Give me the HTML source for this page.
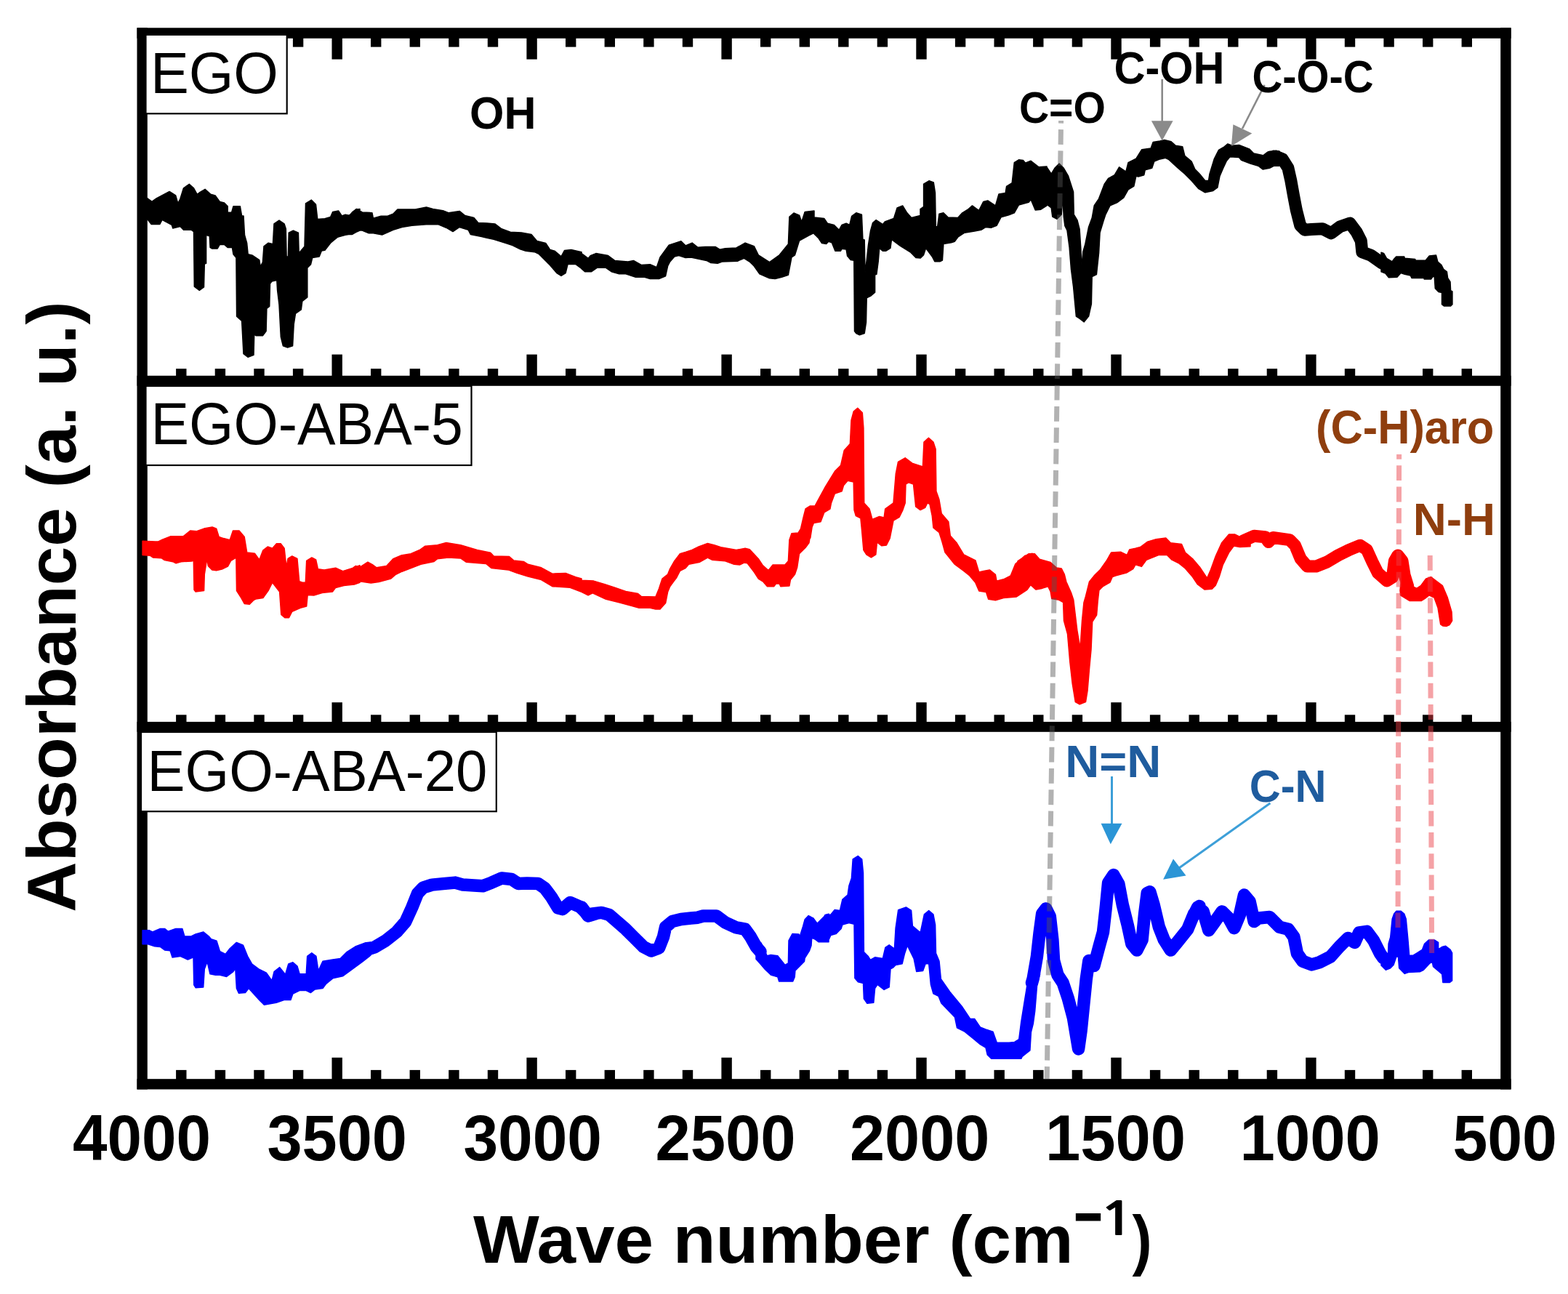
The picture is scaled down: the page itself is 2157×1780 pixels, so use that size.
<!DOCTYPE html><html><head><meta charset="utf-8"><title>FTIR spectra</title><style>html,body{margin:0;padding:0;background:#fff;}svg{display:block;}text{font-family:'Liberation Sans', Arial, Helvetica, sans-serif;}</style></head><body><svg width="2157" height="1780" viewBox="0 0 2157 1780"><rect width="2157" height="1780" fill="#fff"/><g fill="#000"><rect x="2010.6" y="51.8" width="14.4" height="12.8"/><rect x="1957" y="51.8" width="14.4" height="12.8"/><rect x="1903.4" y="51.8" width="14.4" height="12.8"/><rect x="1849.8" y="51.8" width="14.4" height="12.8"/><rect x="1796.2" y="51.8" width="14.4" height="29.8"/><rect x="1742.7" y="51.8" width="14.4" height="12.8"/><rect x="1689.1" y="51.8" width="14.4" height="12.8"/><rect x="1635.5" y="51.8" width="14.4" height="12.8"/><rect x="1581.9" y="51.8" width="14.4" height="12.8"/><rect x="1528.3" y="51.8" width="14.4" height="29.8"/><rect x="1474.7" y="51.8" width="14.4" height="12.8"/><rect x="1421.1" y="51.8" width="14.4" height="12.8"/><rect x="1367.5" y="51.8" width="14.4" height="12.8"/><rect x="1313.9" y="51.8" width="14.4" height="12.8"/><rect x="1260.3" y="51.8" width="14.4" height="29.8"/><rect x="1206.7" y="51.8" width="14.4" height="12.8"/><rect x="1153.1" y="51.8" width="14.4" height="12.8"/><rect x="1099.6" y="51.8" width="14.4" height="12.8"/><rect x="1046" y="51.8" width="14.4" height="12.8"/><rect x="992.4" y="51.8" width="14.4" height="29.8"/><rect x="938.8" y="51.8" width="14.4" height="12.8"/><rect x="885.2" y="51.8" width="14.4" height="12.8"/><rect x="831.6" y="51.8" width="14.4" height="12.8"/><rect x="778" y="51.8" width="14.4" height="12.8"/><rect x="724.4" y="51.8" width="14.4" height="29.8"/><rect x="670.8" y="51.8" width="14.4" height="12.8"/><rect x="617.2" y="51.8" width="14.4" height="12.8"/><rect x="563.6" y="51.8" width="14.4" height="12.8"/><rect x="510" y="51.8" width="14.4" height="12.8"/><rect x="456.5" y="51.8" width="14.4" height="29.8"/><rect x="402.9" y="51.8" width="14.4" height="12.8"/><rect x="349.3" y="51.8" width="14.4" height="12.8"/><rect x="295.7" y="51.8" width="14.4" height="12.8"/><rect x="242.1" y="51.8" width="14.4" height="12.8"/><rect x="2010.6" y="507.2" width="14.4" height="10.6"/><rect x="1957" y="507.2" width="14.4" height="10.6"/><rect x="1903.4" y="507.2" width="14.4" height="10.6"/><rect x="1849.8" y="507.2" width="14.4" height="10.6"/><rect x="1796.2" y="487.6" width="14.4" height="30.2"/><rect x="1742.7" y="507.2" width="14.4" height="10.6"/><rect x="1689.1" y="507.2" width="14.4" height="10.6"/><rect x="1635.5" y="507.2" width="14.4" height="10.6"/><rect x="1581.9" y="507.2" width="14.4" height="10.6"/><rect x="1528.3" y="487.6" width="14.4" height="30.2"/><rect x="1474.7" y="507.2" width="14.4" height="10.6"/><rect x="1421.1" y="507.2" width="14.4" height="10.6"/><rect x="1367.5" y="507.2" width="14.4" height="10.6"/><rect x="1313.9" y="507.2" width="14.4" height="10.6"/><rect x="1260.3" y="487.6" width="14.4" height="30.2"/><rect x="1206.7" y="507.2" width="14.4" height="10.6"/><rect x="1153.1" y="507.2" width="14.4" height="10.6"/><rect x="1099.6" y="507.2" width="14.4" height="10.6"/><rect x="1046" y="507.2" width="14.4" height="10.6"/><rect x="992.4" y="487.6" width="14.4" height="30.2"/><rect x="938.8" y="507.2" width="14.4" height="10.6"/><rect x="885.2" y="507.2" width="14.4" height="10.6"/><rect x="831.6" y="507.2" width="14.4" height="10.6"/><rect x="778" y="507.2" width="14.4" height="10.6"/><rect x="724.4" y="487.6" width="14.4" height="30.2"/><rect x="670.8" y="507.2" width="14.4" height="10.6"/><rect x="617.2" y="507.2" width="14.4" height="10.6"/><rect x="563.6" y="507.2" width="14.4" height="10.6"/><rect x="510" y="507.2" width="14.4" height="10.6"/><rect x="456.5" y="487.6" width="14.4" height="30.2"/><rect x="402.9" y="507.2" width="14.4" height="10.6"/><rect x="349.3" y="507.2" width="14.4" height="10.6"/><rect x="295.7" y="507.2" width="14.4" height="10.6"/><rect x="242.1" y="507.2" width="14.4" height="10.6"/><rect x="2010.6" y="983.3" width="14.4" height="10.6"/><rect x="1957" y="983.3" width="14.4" height="10.6"/><rect x="1903.4" y="983.3" width="14.4" height="10.6"/><rect x="1849.8" y="983.3" width="14.4" height="10.6"/><rect x="1796.2" y="966.2" width="14.4" height="27.7"/><rect x="1742.7" y="983.3" width="14.4" height="10.6"/><rect x="1689.1" y="983.3" width="14.4" height="10.6"/><rect x="1635.5" y="983.3" width="14.4" height="10.6"/><rect x="1581.9" y="983.3" width="14.4" height="10.6"/><rect x="1528.3" y="966.2" width="14.4" height="27.7"/><rect x="1474.7" y="983.3" width="14.4" height="10.6"/><rect x="1421.1" y="983.3" width="14.4" height="10.6"/><rect x="1367.5" y="983.3" width="14.4" height="10.6"/><rect x="1313.9" y="983.3" width="14.4" height="10.6"/><rect x="1260.3" y="966.2" width="14.4" height="27.7"/><rect x="1206.7" y="983.3" width="14.4" height="10.6"/><rect x="1153.1" y="983.3" width="14.4" height="10.6"/><rect x="1099.6" y="983.3" width="14.4" height="10.6"/><rect x="1046" y="983.3" width="14.4" height="10.6"/><rect x="992.4" y="966.2" width="14.4" height="27.7"/><rect x="938.8" y="983.3" width="14.4" height="10.6"/><rect x="885.2" y="983.3" width="14.4" height="10.6"/><rect x="831.6" y="983.3" width="14.4" height="10.6"/><rect x="778" y="983.3" width="14.4" height="10.6"/><rect x="724.4" y="966.2" width="14.4" height="27.7"/><rect x="670.8" y="983.3" width="14.4" height="10.6"/><rect x="617.2" y="983.3" width="14.4" height="10.6"/><rect x="563.6" y="983.3" width="14.4" height="10.6"/><rect x="510" y="983.3" width="14.4" height="10.6"/><rect x="456.5" y="966.2" width="14.4" height="27.7"/><rect x="402.9" y="983.3" width="14.4" height="10.6"/><rect x="349.3" y="983.3" width="14.4" height="10.6"/><rect x="295.7" y="983.3" width="14.4" height="10.6"/><rect x="242.1" y="983.3" width="14.4" height="10.6"/><rect x="2010.6" y="1471.9" width="14.4" height="13.3"/><rect x="1957" y="1471.9" width="14.4" height="13.3"/><rect x="1903.4" y="1471.9" width="14.4" height="13.3"/><rect x="1849.8" y="1471.9" width="14.4" height="13.3"/><rect x="1796.2" y="1454.8" width="14.4" height="30.4"/><rect x="1742.7" y="1471.9" width="14.4" height="13.3"/><rect x="1689.1" y="1471.9" width="14.4" height="13.3"/><rect x="1635.5" y="1471.9" width="14.4" height="13.3"/><rect x="1581.9" y="1471.9" width="14.4" height="13.3"/><rect x="1528.3" y="1454.8" width="14.4" height="30.4"/><rect x="1474.7" y="1471.9" width="14.4" height="13.3"/><rect x="1421.1" y="1471.9" width="14.4" height="13.3"/><rect x="1367.5" y="1471.9" width="14.4" height="13.3"/><rect x="1313.9" y="1471.9" width="14.4" height="13.3"/><rect x="1260.3" y="1454.8" width="14.4" height="30.4"/><rect x="1206.7" y="1471.9" width="14.4" height="13.3"/><rect x="1153.1" y="1471.9" width="14.4" height="13.3"/><rect x="1099.6" y="1471.9" width="14.4" height="13.3"/><rect x="1046" y="1471.9" width="14.4" height="13.3"/><rect x="992.4" y="1454.8" width="14.4" height="30.4"/><rect x="938.8" y="1471.9" width="14.4" height="13.3"/><rect x="885.2" y="1471.9" width="14.4" height="13.3"/><rect x="831.6" y="1471.9" width="14.4" height="13.3"/><rect x="778" y="1471.9" width="14.4" height="13.3"/><rect x="724.4" y="1454.8" width="14.4" height="30.4"/><rect x="670.8" y="1471.9" width="14.4" height="13.3"/><rect x="617.2" y="1471.9" width="14.4" height="13.3"/><rect x="563.6" y="1471.9" width="14.4" height="13.3"/><rect x="510" y="1471.9" width="14.4" height="13.3"/><rect x="456.5" y="1454.8" width="14.4" height="30.4"/><rect x="402.9" y="1471.9" width="14.4" height="13.3"/><rect x="349.3" y="1471.9" width="14.4" height="13.3"/><rect x="295.7" y="1471.9" width="14.4" height="13.3"/><rect x="242.1" y="1471.9" width="14.4" height="13.3"/><rect x="188.5" y="38.3" width="1890.1" height="14.5"/><rect x="188.5" y="1484.2" width="1890.1" height="14.3"/><rect x="188.5" y="516.8" width="1890.1" height="14"/><rect x="188.5" y="992.9" width="1890.1" height="13.9"/><rect x="188.5" y="38.3" width="14.3" height="1460.2"/><rect x="2064.2" y="38.3" width="14.4" height="1460.2"/></g><path d="M196,273 202.8,272.8 209,277.4 215.2,272.8 233.1,263.4 241.7,268.9 244.8,279.8 247.9,273.5 252.5,258.8 260.3,253.3 266.5,258.8 271.2,267.3 274.3,265 282.1,260.3 289.9,267.3 296.1,268.9 302.3,277.4 308.5,279 313.2,283.7 313.2,292.2 318.6,292.2 321,283.7 330.3,283.7 332.6,296.9 335,296.9 336.5,323.3 339.6,334.2 341.2,349.8 347.4,351.3 356.7,357.5 358.3,366.9 361.4,360.6 363,338.9 369.2,334.2 375.4,335.8 377,307.8 384,303.1 391,307.8 393.3,314.8 394.1,352.9 396.4,352.9 397.2,320.2 403.4,317.1 410.4,320.2 411.2,348.2 419,338.9 420.5,279.8 428.3,275.1 434.5,281.3 436.8,301.5 446.9,300.8 454.7,298.4 457.8,291.4 465.6,289.9 470.3,296.9 475,295.3 484.3,296.9 488.9,288.3 495,287.5 495,317.1 484.3,321.8 475,323.3 464.1,326.4 454.7,334.2 446.9,344.3 442.3,345.1 439.2,352.9 429.8,354.4 427.5,363.7 422.8,368.4 422.8,408.8 415.8,414.3 414.3,426 406.5,431.4 404.2,446.2 402.6,475.7 395.6,478.1 389.4,475.7 386.3,463.3 384,419 381.6,399.5 380.8,385.5 373.9,387.1 371.5,390.2 370.7,421.3 366.9,424.4 366.1,455.5 361.4,461.7 352.1,461.7 349.7,460.2 349,488.2 341.2,491.3 335,486.6 332.6,441.5 325.6,435.3 324.9,354.4 321,349.8 319.4,340.4 313.2,340.4 308.5,336.5 302.3,336.5 299.2,342 291.4,342 289.1,340.4 288.3,324.9 283.6,323.3 283.6,362.2 281.3,363 280.5,394.9 274.3,399.5 267.3,394.1 266.5,318.6 263.4,316.3 252.5,316.3 247.9,311.6 237.8,314 236.2,309.3 223,302.3 219.9,308.5 208.2,308.5 202.8,301.5 196,301.5ZM480,297.3 484.6,291.9 490.6,287.4 498.3,291.9 511.9,292.7 513.5,300.3 524.1,297.3 533.2,297.3 540.8,294.2 546.9,288.1 563.7,288.1 571.3,288.1 586.5,285.1 595.6,287.4 609.3,289.7 616.9,292.7 632.1,290.4 639.7,296.5 651.9,299.5 657.9,306.4 670.1,307.1 680.8,307.9 689.9,314.8 702.1,319.3 717.3,320.1 731,322.4 738.6,331.5 750.7,334.5 756.8,343.6 762.9,345.2 772,352.8 776.6,344.4 785.7,343.6 800,346.7 800,369.5 791.8,363.4 781.1,363.4 778.1,375.6 772,379.4 765.9,375.6 756.8,364.9 741.6,349.7 735.5,346.7 723.3,345.2 715.7,342.9 705.1,337.6 696,334.5 679.2,329.2 668.6,326.9 662.5,325.4 647.3,322.4 644.3,316.3 632.1,312.5 623,318.6 613.8,313.2 603.2,308.7 586.5,308.7 566.7,310.2 553,312.5 540.8,316.3 525.6,323.1 513.5,320.8 507.4,320.8 498.3,317 493.7,317 484.6,322.4 480,322.4ZM800,348.6 809.1,355.4 812.2,351.6 819.8,348.6 836.5,351.6 845.6,358.4 863.9,360 871.5,358.4 882.1,364.5 894.3,363.8 903.4,367.6 908,353.9 920.2,337.1 936.9,331.8 943,337.9 952.1,334.1 959.7,340.2 970.3,339.4 984,339.4 990.1,343.2 997.7,341.7 1012.9,341 1025.1,334.1 1037.3,338.7 1043.3,350.8 1058.6,360.7 1072.2,350.8 1084.4,335.6 1085.9,298.4 1092,293 1099.6,296.1 1102.7,305.2 1107.2,291.5 1120,290 1120,320.4 1113.3,323.5 1099.6,331.1 1093.5,350.8 1089,353.9 1084.4,378.2 1075.3,381.3 1066.2,383.5 1058.6,382.8 1044.9,376.7 1037.3,366 1031.2,360 1023.6,355.4 1014.4,359.2 993.2,360 987.1,362.2 977.9,361.5 971.9,358.4 961.2,356.2 950.6,353.9 943,354.6 933.8,351.6 927.8,353.1 921.7,360 918.6,366 915.6,379.7 906.5,383.5 894.3,383.5 886.7,381.3 874.5,381.3 860.8,376.7 851.7,376.7 841.1,373.7 833.5,368.3 821.3,368.3 813.7,373.7 804.6,373.7 800,369.8ZM1120,292.8 1120,298.9 1133.7,300.4 1138.3,307.2 1147.4,309.5 1154.2,316.3 1158,309.5 1164.1,307.2 1168.7,309.5 1171.7,297.3 1177.8,292.8 1185.4,295.1 1186.9,329.3 1189.2,330 1190,374.9 1192.2,358.2 1194.5,336.9 1197.6,317.1 1200.6,306.5 1205.2,302.7 1214.3,308.7 1217.3,304.9 1229.5,300.4 1234.1,285.9 1241.7,282.9 1247.8,292.8 1253.8,299.6 1266,296.6 1266,287.5 1270.6,284.4 1270.6,253.2 1278.2,248.7 1284.3,251 1286.5,265.4 1287.3,311.8 1289.6,311.8 1291.9,294.3 1297.9,292.8 1304,298.9 1317.7,299.6 1323.8,292.8 1331.4,288.2 1337.5,282.9 1346.6,289.7 1352.7,277.6 1358.8,276 1369.4,282.9 1374,266.9 1383.1,265.4 1384.6,256.3 1392.2,251.7 1395.3,223.6 1401.4,219.8 1407.5,220.5 1410.5,224.3 1418.1,221.3 1428.7,229.7 1440,228.9 1440,282.9 1431.8,288.2 1424.2,289 1418.1,274.5 1415.1,278.3 1401.4,282.1 1395.3,292.8 1387.7,295.8 1377,298.9 1371,310.3 1363.3,313.3 1355.7,312.5 1349.7,316.3 1340.5,317.9 1326.8,320.2 1317.7,326.2 1313.2,332.3 1308.6,333.8 1297.9,335.4 1296.4,358.2 1293.4,359.7 1285.8,359.7 1282.7,353.6 1273.6,341.4 1270.6,350.6 1266,355.1 1259.9,354.4 1252.3,346.8 1238.6,338.4 1226.5,329.3 1224.9,341.4 1218.9,345.2 1214.3,345.2 1209.7,341.4 1208.2,359.7 1205.9,377.2 1203.6,378 1203.6,402.3 1198.3,406.8 1192.2,409.9 1191.5,443.3 1189.2,458.5 1182.4,460.8 1177.8,458.5 1175.5,455.5 1174.8,358.2 1170.2,357.4 1165.6,352.1 1164.1,343 1158,342.2 1156.5,345.2 1148.9,345.2 1144.3,333.8 1139.8,332.3 1136.7,335.4 1130.6,334.6 1126.1,327.8 1120,321.7ZM1440,229.8 1446.2,239.1 1450.9,231.3 1457.1,225.1 1463.3,231.3 1469.6,242.2 1476.6,264 1477.3,295.1 1482,302.9 1485.1,315.3 1486.7,339.5 1488.2,368.2 1489.8,346.5 1492.9,335.6 1497.6,312.2 1502.2,299.8 1505.3,282.7 1511.6,273.3 1519.3,253.1 1524.8,245.3 1533.3,240.7 1539.6,229.8 1548.9,236 1552,223.6 1562.9,218.1 1570.7,205.7 1583.1,204.1 1586.2,195.6 1595.6,194 1601.8,192.4 1611.1,194.8 1617.3,200.2 1626.7,201.8 1629.8,214.2 1639.1,222 1643.8,232.9 1650,239.1 1657.8,248.5 1662.5,248.5 1664,239.1 1670.2,218.9 1676.5,206.4 1684.2,201.8 1688.9,197.9 1695.1,200.2 1704.5,199.4 1718.5,204.9 1724.7,211.1 1743.4,215 1751.1,207.2 1760,208 1760,228.2 1752.7,228.2 1746.5,231.3 1737.1,232.9 1730.9,228.2 1720,225.1 1707.6,220.4 1704.5,216.6 1692,215.8 1687.4,221.2 1682.7,231.3 1678,242.2 1674.9,257.8 1668.7,262.5 1657.8,264.8 1648.5,259.3 1639.1,248.5 1629.8,239.1 1620.5,231.3 1608,219.7 1603.3,217.3 1595.6,218.9 1587.8,222 1584.7,231.3 1575.3,233.7 1573.8,240.7 1566,243 1562.9,242.2 1559.8,256.2 1552,260.9 1545.8,271.8 1536.5,278.8 1527.1,282.7 1520.9,295.1 1517.8,304.5 1513.1,320 1511.6,348 1508.4,377.6 1502.2,380.7 1501.4,418 1497.6,435.1 1491.3,442.9 1485.1,438.2 1480.4,435.1 1476.6,394.7 1473.4,369.8 1471.1,340.2 1468,316.9 1464.9,310.7 1463.3,298.2 1461.8,270.2 1460.2,295.1 1454,301.3 1447.8,298.2 1446.2,285.8 1440,281.1ZM1900,347.3 1903.5,348.4 1907.5,355.3 1915,360 1917.9,355.9 1920.7,353 1931.7,353 1932.3,355.3 1946.7,356.5 1947.2,358.2 1961.1,358.2 1966.2,351.9 1975.5,351 1977.8,360 1982.9,364.6 1985.8,370.3 1990.4,373.8 1991.6,382.4 1995,387.6 1995.6,399.7 1997.9,400.9 1997.9,418.7 1995.6,421 1986.4,421 1983.5,418.7 1983.5,402.6 1978.9,401.4 1974.3,396.8 1973.2,380.1 1970.9,380.7 1968.5,384.1 1959.3,384.1 1958.8,382.4 1942,382.4 1940.3,379 1932.3,377.2 1927.1,375.5 1921.9,381.3 1910.4,381.8 1905.8,376.1 1900,373.8Z" fill="#000" stroke="#000" stroke-width="1.5" stroke-linejoin="round"/><path d="M1740,221.9 1747.6,215.9 1755.2,215.1 1764.3,218.9 1771.9,231.1 1775.7,247.8 1779.5,269.1 1783.3,288.9 1788.7,310.2 1794.8,316.2 1803.9,315.5 1819.1,314.7 1831.3,320.8 1843.4,311.7 1857.1,307.1 1866.2,319.3 1872.3,331.4 1873.8,346.7 1886,351.2 1901.2,362" fill="none" stroke="#000" stroke-width="17" stroke-linejoin="round" stroke-linecap="round"/><path d="M196.1,744.2 213.5,744.9 217.8,744.9 223.5,742.1 234.9,737.8 239.2,737.8 252,737.8 262,729.9 270.6,730.7 280.6,727.1 292,725 297.7,727.1 301.2,738.5 307.6,740.6 316.2,742.8 320.5,729.9 329,729.9 336.2,738.5 339.7,759.9 350.4,761.3 356.8,769.9 361.8,757 368.2,752 374.7,754.2 380.4,747.8 386.1,747.8 391.1,754.2 393.9,779.9 396.1,768.4 401.8,764.9 408.9,768.4 411.7,799.8 416,801.2 420.3,801.2 421.7,771.3 428.9,767 434.6,769.9 437.4,782.7 446,784.1 461.7,781.3 471.6,785.6 485.9,781.3 495,777.7 495,801.2 487.3,804.1 473.1,805.5 461.7,808.4 457.4,814.1 443.1,815.5 431.7,819.1 423.2,818.4 421.7,834 413.2,836.2 401.8,841.2 397.5,849.7 391.8,849.7 386.8,845.4 384.6,814.1 374.7,801.2 369,812.6 361.8,822.6 351.9,824.1 349,825.5 343.3,831.2 336.2,830.5 331.9,822.6 325.5,812.6 324.8,767 317.6,771.3 313.4,779.1 306.2,782.7 297.7,784.8 292,784.1 286.3,778.4 284.8,768.4 281.3,789.8 280.6,812.6 269.1,814.1 267,811.2 266.3,771.3 263.4,772 249.2,772.7 242.1,774.9 237.8,772.7 226.4,770.6 222.1,767.7 210.7,767 206.4,764.2 196.1,763.5ZM480,785.4 489.1,778.6 495.2,780.1 505.9,773.2 511.9,776.3 518,780.8 531.7,778.6 540.8,768.7 551.5,764.1 565.2,761.8 577.3,756.5 584.9,751.2 601.7,749.7 613.8,746.6 633.6,749.7 656.4,756.5 674.7,760.3 679.2,764.9 700.5,765.6 706.6,770.9 720.3,772.5 726.4,776.3 744.6,780.8 759.8,789.2 778.1,788.4 791.8,793.8 800,796 800,814.3 784.2,808.2 759.8,806.7 744.6,797.6 726.4,793 711.2,788.4 699,783.9 676.2,781.6 668.6,775.5 641.2,773.2 633.6,767.9 616.9,767.1 601.7,768.7 597.1,772.5 578.9,776.3 553,786.2 543.9,790.7 537.8,796 521.1,800.6 510.4,802.1 495.2,799.8 484.6,803.7 480,804.4ZM800,798.3 816.7,799.1 831.9,803.7 845.6,808.2 860.8,813.5 877.6,816.6 882.1,820.4 901.9,821.1 906.5,809.7 911,796 918.6,790 921.7,782.4 927.8,771.7 935.4,761.8 943,759.5 952.1,756.5 961.2,751.9 973.4,747.4 982.5,749.7 991.6,752.7 1012.9,756.5 1025.1,754.2 1031.2,755.7 1043.3,768.7 1049.4,777.8 1057,784.6 1063.1,777 1079.8,777 1084.4,771.7 1085.9,742.8 1089,733.7 1098.1,732.9 1102.7,725.3 1105.7,720 1117.9,720 1114.8,739.8 1107.2,751.9 1099.6,761.1 1096.6,780.8 1093.5,790 1087.4,797.6 1085.9,805.9 1073.8,806.7 1072.2,802.9 1067.7,802.9 1064.6,806.7 1055.5,806.7 1049.4,799.8 1043.3,796 1037.3,786.9 1028.1,774.8 1023.6,774 1017.5,777 1009.9,776.3 997.7,771.7 979.5,770.2 973.4,767.1 962.7,773.2 955.1,774.8 947.5,776.3 943,781.6 935.4,785.4 930.8,794.5 926.2,800.6 921.7,806.7 918.6,814.3 915.6,829.5 908,837.9 901.9,837.9 894.3,836.3 879.1,836.3 868.4,833.3 851.7,828.7 833.5,824.2 815.2,815.8 809.1,818.9 800,814.3ZM1100,733.9 1104.8,712.9 1108.1,700 1114.5,696 1121,696 1125,688.7 1135.5,669.4 1148.4,648.4 1156.5,640.3 1161.3,619.4 1169.4,610.5 1171,578.2 1174.2,566.1 1179.8,561.3 1186.3,567.7 1187.9,588.7 1188.7,691.9 1196,700 1200,714.5 1209.7,710.5 1216.1,712.1 1217.7,700 1229,691.9 1232.3,651.6 1235.5,635.5 1245.2,629.8 1254.8,637.1 1269.4,641.9 1271,608.1 1277.4,602.4 1283.9,608.1 1287.1,617.7 1287.9,675.8 1291.9,687.1 1295.2,706.5 1304.8,717.7 1307.3,737.1 1316.1,746.8 1325.8,762.9 1341.9,771 1346.8,787.1 1353.2,785.5 1361.3,783.9 1369.4,790.3 1371,799.2 1380.6,796.8 1390.3,791.9 1396.8,775.8 1409.7,764.5 1420,761.3 1420,801.6 1412.9,811.3 1398.4,821 1380.6,822.6 1369.4,825.8 1359.7,824.2 1356.5,814.5 1346.8,812.9 1341.9,801.6 1333.9,791.9 1325.8,785.5 1312.9,775.8 1300,759.7 1296,745.2 1291.9,732.3 1283.9,725.8 1282.3,709.7 1279,693.5 1275.8,691.9 1272.6,698.4 1266.1,701.6 1259.7,696.8 1256.5,666.1 1250,663.7 1246,666.1 1245.2,691.9 1241.9,701.6 1237.1,711.3 1229,716.1 1224.2,740.3 1219.4,750 1212.9,750.8 1206.5,746 1204.8,762.9 1198.4,766.9 1191.9,762.9 1187.9,756.5 1185.5,729 1183.9,712.9 1177.4,709.7 1175,701.6 1174.2,662.9 1166.1,661.3 1160.5,667.7 1158.1,675.8 1148.4,679 1143.5,691.9 1141.9,700 1133.9,704.8 1129,717.7 1119.4,719.4 1116.1,727.4 1112.9,746.8 1108.1,753.2 1100,761.3ZM1400,771.8 1415,761.8 1423.4,761.8 1430.1,769.3 1445.1,773.5 1453.4,781 1460.1,781.9 1464.3,790.2 1466.8,800.2 1473.5,815.3 1476.8,825.3 1481.8,867 1486,892.1 1488.5,853.7 1491,828.6 1493.5,820.3 1498.5,800.2 1505.2,791.9 1513.6,783.5 1521.9,771.8 1528.6,760.1 1542,759.3 1550.3,763.5 1553.7,756 1562,754.3 1568.7,752.6 1578.7,745.1 1590.4,741.8 1603.8,740.1 1610.4,746.8 1625.5,748.5 1630.5,760.1 1640.5,768.5 1650.5,780.2 1660.5,795.2 1665.6,783.5 1672.2,765.2 1680.6,746.8 1690.6,735.1 1699,735.1 1705.6,738.4 1720,734.3 1720,751.8 1705.6,752.6 1697.3,751 1690.6,760.1 1682.3,776.8 1677.2,793.5 1672.2,805.2 1667.2,810.3 1657.2,811.1 1647.2,803.6 1640.5,793.5 1630.5,781.9 1622.1,775.2 1612.1,770.2 1605.4,763.5 1593.7,763.5 1577,770.2 1570.4,779.4 1562,776.8 1558.7,782.7 1550.3,787.7 1535.3,791.9 1530.3,793.5 1526.9,801.1 1516.9,806.9 1511.9,811.9 1510.2,827 1508.6,846.2 1502.7,855.3 1501,893.8 1498.5,920.5 1496,950.5 1493.5,965.6 1485.2,968.9 1479.3,965.6 1475.2,940.5 1471.8,910.5 1468.5,872 1463.5,853.7 1462.6,828.6 1456.8,825.3 1446.8,823.6 1445.1,813.6 1441.8,806.9 1433.4,809.4 1425.1,811.1 1418.4,805.2 1416.7,800.2 1410,811.9 1400,814.4ZM1930.4,768 1933,776.5 1935.5,791 1939.3,804.4 1948.8,809.4 1954.5,805.6 1961.5,796.1 1968.4,793.6 1976,799.3 1984.3,805.6 1991.3,822.1 1997,841.7 1997.6,853.8 1994,859.5 1990,861.4 1985,861 1981.7,858.9 1978,836 1972.9,822.1 1965.9,818.9 1960.2,823.4 1955.1,826.5 1939.3,826.5 1926.6,818.9 1926,812Z" fill="#ff0000" stroke="#ff0000" stroke-width="1.5" stroke-linejoin="round"/><path d="M1710,744.1 1725.2,737.3 1740.4,738.8 1745,745.6 1751.1,739.5 1773.9,742.6 1781.5,750.2 1789.1,768.4 1798.2,779.1 1810.4,779.1 1825.6,773 1840.8,763.9 1856,756.3 1871.2,750.2 1880.3,756.3 1887.9,773 1895.5,788.2 1907.7,798.9 1915.3,794.3 1918.4,771.5 1922.9,763.9 1929,771.5 1932.1,791.3 1936.6,806" fill="none" stroke="#ff0000" stroke-width="17" stroke-linejoin="round" stroke-linecap="round"/><path d="M196.1,1279.7 205.2,1279.7 209.8,1281.9 220.4,1277.4 226.5,1277.4 231.1,1281.2 241.7,1277.4 250.8,1277.4 253.9,1288 263,1288 269.1,1285 279.7,1281.9 287.3,1288 290.4,1291.8 298,1294.1 302.5,1308.6 310.2,1312.4 316.2,1304.8 325.4,1296.4 334.5,1300.2 340.6,1315.4 346.7,1326 355.8,1332.9 366.4,1338.2 374,1348.9 377.1,1336.7 384.7,1330.6 390.8,1338.2 392.3,1341.3 396.8,1326 402.9,1323.8 409,1329.1 412.1,1339.7 421.2,1339.7 422.7,1315.4 428.8,1310.8 434.9,1315.4 437.9,1335.2 444,1322.2 457.7,1320 468.3,1318.4 477.4,1309.3 489.6,1301.7 501.8,1297.1 510,1296 510,1314 498.7,1323 482,1335.2 471.4,1342.8 457.7,1345.8 448.6,1353.4 444,1359.5 433.3,1361 427.3,1365.6 421.2,1362.5 412.1,1362.5 402.9,1367.1 399.9,1375.5 390.8,1375.5 380.1,1379.3 363.4,1382.3 357.3,1376.2 342.1,1359.5 337.5,1365.6 328.4,1366.3 325.4,1359.5 323.8,1332.1 320.8,1336.7 311.7,1343.5 302.5,1341.3 296.5,1341.3 288.9,1339.7 285.1,1323 281.3,1332.9 279.7,1358 269.1,1358.7 266.8,1354.9 266,1316.9 258.4,1320 247.8,1315.4 237.1,1316.9 234.1,1307.8 226.5,1307 220.4,1302.5 212.8,1301.7 203.7,1298.7 196.1,1298.7ZM1100,1288.2 1105.4,1282.9 1108.9,1265 1114.3,1260.5 1123.2,1271.3 1135.7,1258.8 1142.9,1257.9 1148.2,1251.6 1155.4,1252.5 1158.9,1237.3 1166.1,1231.1 1167.9,1218.6 1171.4,1207.9 1173.2,1182 1180.4,1177.5 1185.7,1182 1187.5,1200.7 1188.4,1309.6 1194.6,1315.9 1197.3,1320.4 1203.6,1316.8 1214.3,1318.6 1217.9,1303.4 1223.2,1299.8 1230.4,1305.2 1232.1,1276.6 1235.7,1251.6 1246.4,1248 1253.6,1252.5 1255.4,1273.9 1266.1,1282.9 1271.4,1257.9 1277.7,1252.5 1283.9,1257.9 1286.6,1272.1 1287.5,1311.4 1292,1322.1 1294.4,1346.8 1306.6,1364.3 1324.1,1385.6 1334.8,1401.6 1340.8,1401.6 1348.4,1413 1356,1416 1365.9,1419.1 1371.3,1434.3 1388,1434.3 1395.6,1433.5 1401.7,1429.7 1404.7,1406.2 1409.3,1377.3 1413.8,1349.9 1415.4,1340 1430.6,1340 1426.8,1352.9 1423.7,1391 1421.4,1407.7 1418.4,1419.8 1416.9,1444.9 1406.2,1453.3 1404.7,1456.3 1390.3,1456.3 1370.5,1456.3 1363.7,1456.3 1358.3,1451 1356,1441.1 1348.4,1436.6 1340.1,1429.7 1327.1,1419.1 1316.5,1413.8 1313.5,1399.3 1295.2,1380.3 1294.6,1379.3 1291.1,1370.4 1283.9,1366.8 1280.4,1354.3 1277.7,1325.7 1273.2,1325.7 1269.6,1335.5 1260.7,1336.4 1257.1,1318.6 1248.2,1300.7 1244.6,1311.4 1241.1,1325.7 1232.1,1327.5 1228.6,1331.1 1225,1332.9 1223.2,1357.9 1216.1,1361.4 1207.1,1354.3 1203.6,1359.6 1201.8,1379.3 1192.9,1380.2 1188.4,1373.9 1187.5,1352.5 1180.4,1350.7 1175.9,1345.4 1175,1271.3 1167.9,1269.5 1158.9,1272.1 1157.1,1277.5 1150,1284.6 1142.9,1286.4 1139.3,1294.5 1123.2,1293.6 1117.9,1287.3 1114.3,1300.7 1110.7,1309.6 1103.6,1320.4 1100,1327.5ZM1040,1286.9 1041.3,1293.9 1047,1297 1055.2,1314.8 1060.3,1313.5 1069.8,1314.8 1079.9,1327.5 1084.4,1324.9 1085,1293.9 1090.1,1284.4 1098.9,1285 1100.2,1288.2 1104.6,1274.2 1107.2,1264.7 1112.2,1259.6 1118.6,1262.8 1124.9,1271.1 1131.3,1265.3 1135.1,1258.4 1140,1257.1 1140,1295.8 1126.2,1295.8 1121.1,1292 1116.7,1290.1 1116,1300.8 1113.5,1307.8 1107.2,1317.9 1106.5,1322.4 1093.9,1335.1 1093.2,1343.9 1090.7,1350 1071.7,1350 1069.8,1343.9 1060.9,1341.4 1052.7,1333.8 1046.3,1326.2 1040,1319.2ZM1900,1305.1 1904.4,1308.3 1909.5,1313.4 1910.1,1298.2 1912.7,1289.3 1915.2,1263.9 1917.7,1257 1920.9,1253.2 1927.2,1253.2 1931.7,1257 1934.2,1263.9 1936.8,1291.2 1938.7,1314.6 1944.4,1314 1949.4,1310.8 1956.4,1306.4 1959.6,1298.2 1965.3,1293.1 1973.5,1293.1 1978.6,1296.3 1978.6,1305.8 1983.7,1302.6 1988.7,1301.3 1995.1,1306.4 1997.6,1310.8 1997.6,1348.9 1994.4,1351.4 1984.9,1351.4 1983.7,1340 1971.6,1329.8 1970.3,1323.5 1967.2,1324.8 1958.3,1334.3 1953.2,1336.8 1937.4,1337.5 1932.3,1339.4 1924.7,1331.7 1923.4,1315.9 1920.9,1315.9 1917.1,1327.3 1912.7,1331.7 1906.3,1334.3 1900,1327.9Z" fill="#0000ff" stroke="#0000ff" stroke-width="1.5" stroke-linejoin="round"/><path d="M500,1308 515.2,1303 530.4,1294 545.6,1282 557.8,1268 566.9,1248 574.5,1229 582.1,1221 594.3,1217.1 609.5,1215.6 626.2,1214.1 636.9,1217.1 652.1,1217.9 664.3,1218.7 676.4,1214.1 690.1,1208 703.8,1209.5 712.9,1215.6 725.1,1214.9 740.3,1215.6 749.4,1221.7 758.6,1233.9 767.7,1249.1 773.8,1250.6 784.4,1241.5 798.1,1247.6 810.3,1259.7 820,1256.7M800,1247.8 809.1,1260 815.2,1256.9 827.4,1255.4 838,1258.4 848.7,1267.6 860.8,1278.2 873,1290.4 885.2,1302.5 895.8,1307.9 906.5,1304.1 912.5,1288.9 915.6,1275.2 924.7,1267.6 936.9,1264.5 950.6,1263 959.7,1262.2 967.3,1260 985.6,1260 997.7,1269.1 1012.9,1275.9 1025.1,1278.2 1032.7,1288.9 1040.3,1302.5 1046,1309M1419.5,1352 1421.1,1346.4 1426.4,1316.1 1430,1283.9 1433.6,1257.1 1438.9,1250 1444.3,1260.7 1447.9,1292.9 1449.6,1321.4 1455,1341.1 1462.1,1351.8 1469.3,1373.2 1476.4,1400 1481.8,1432.1 1483.6,1442.9 1487.1,1417.9 1490.7,1382.1 1494.3,1346.4 1497.9,1321.4 1505,1328.6 1512.1,1301.8 1517.5,1282.1 1521.1,1250 1524.6,1214.3 1531.8,1203.6 1538.9,1216.1 1544.3,1244.6 1551.4,1273.2 1556.8,1298.2 1563.9,1307.1 1571.1,1292.9 1574.6,1257.1 1578.2,1228.6 1581.8,1226.8 1587.1,1244.6 1594.3,1275 1601.4,1292.9 1610.4,1307.1 1619.3,1296.4 1633.6,1278.6 1642.5,1257.1 1650,1246.4M1640,1263 1647.6,1247.8 1655.2,1253.9 1662.8,1279.7 1670.4,1269.1 1681.1,1253.9 1690.2,1263 1697.8,1276.7 1705.4,1258.4 1711.5,1231.1 1719.1,1240.2 1725.2,1267.6 1731.3,1263 1746.5,1261.5 1760.2,1275.2 1772.3,1278.2 1779.9,1288.9 1784.5,1311.7 1792.1,1322.3 1804.3,1326.9 1814.9,1323.8 1830.1,1316.2 1842.3,1302.5 1854.4,1290.4 1863.6,1296.5 1869.7,1282.8 1880.3,1281.3 1889.4,1293.4 1898.6,1311.7 1903,1318" fill="none" stroke="#0000ff" stroke-width="17.5" stroke-linejoin="round" stroke-linecap="round"/><g fill="none" stroke-width="7" stroke-dasharray="20.8 8.5"><path d="M1459.6,166 L1440.2,1484" stroke="rgb(85,85,85)" stroke-opacity="0.45" stroke-dashoffset="17.2"/><path d="M1924.6,625 L1923,1276" stroke="rgb(235,60,70)" stroke-opacity="0.48" stroke-dashoffset="14"/><path d="M1967.2,764 L1969.6,1311" stroke="rgb(235,60,70)" stroke-opacity="0.48"/></g><g><line x1="1598.7" y1="109" x2="1598.7" y2="168" stroke="#8a8a8a" stroke-width="2.6"/><polygon points="1583.9,166.3 1613.6,166.3 1598.7,193.5" fill="#8a8a8a"/><line x1="1739.6" y1="116.8" x2="1709" y2="177" stroke="#8a8a8a" stroke-width="2.6"/><polygon points="1696.4,171.2 1722.3,183.6 1693.9,200.9" fill="#8a8a8a"/><line x1="1529.5" y1="1068" x2="1529.5" y2="1134" stroke="#3d9fd8" stroke-width="3"/><polygon points="1514.6,1132.8 1543.5,1132.8 1527.8,1161.3" fill="#2b95d6"/><line x1="1747.4" y1="1104.8" x2="1622" y2="1194" stroke="#3d9fd8" stroke-width="3"/><polygon points="1614,1181.6 1631.5,1204.4 1600.1,1209.8" fill="#2b95d6"/></g><g fill="#fff" stroke="#000" stroke-width="2.2"><rect x="200.5" y="47.8" width="194.2" height="108.5"/><rect x="200.5" y="531" width="448" height="109"/><rect x="194" y="1007" width="488.8" height="109.2"/></g><text x="206.9" y="127.8" font-size="79.22" font-weight="normal" fill="#000" textLength="176.1" lengthAdjust="spacingAndGlyphs">EGO</text><text x="207.5" y="611.1" font-size="81.18" font-weight="normal" fill="#000" textLength="429.3" lengthAdjust="spacingAndGlyphs">EGO-ABA-5</text><text x="202.5" y="1087.5" font-size="79.16" font-weight="normal" fill="#000" textLength="467.9" lengthAdjust="spacingAndGlyphs">EGO-ABA-20</text><text x="646.0" y="177.4" font-size="63.86" font-weight="bold" fill="#000" textLength="91.5" lengthAdjust="spacingAndGlyphs">OH</text><text x="1401.9" y="168.9" font-size="62.00" font-weight="bold" fill="#000" textLength="119.0" lengthAdjust="spacingAndGlyphs">C=O</text><text x="1532.5" y="115.2" font-size="63.85" font-weight="bold" fill="#000" textLength="152.0" lengthAdjust="spacingAndGlyphs">C-OH</text><text x="1722.6" y="127.4" font-size="62.03" font-weight="bold" fill="#000" textLength="167.0" lengthAdjust="spacingAndGlyphs">C-O-C</text><text x="1810.0" y="610.1" font-size="65.26" font-weight="bold" fill="#8f3e0e" textLength="245.3" lengthAdjust="spacingAndGlyphs">(C-H)aro</text><text x="1943.8" y="736.4" font-size="63.48" font-weight="bold" fill="#8f3e0e" textLength="113.3" lengthAdjust="spacingAndGlyphs">N-H</text><text x="1465.3" y="1069.3" font-size="62.71" font-weight="bold" fill="#1f5c9e" textLength="132.0" lengthAdjust="spacingAndGlyphs">N=N</text><text x="1718.8" y="1102.6" font-size="62.71" font-weight="bold" fill="#1f5c9e" textLength="105.7" lengthAdjust="spacingAndGlyphs">C-N</text><text x="100.0" y="1595.5" font-size="88.71" font-weight="bold" fill="#000" textLength="190.1" lengthAdjust="spacingAndGlyphs">4000</text><text x="367.5" y="1595.5" font-size="88.71" font-weight="bold" fill="#000" textLength="192.5" lengthAdjust="spacingAndGlyphs">3500</text><text x="637.4" y="1595.5" font-size="88.71" font-weight="bold" fill="#000" textLength="190.6" lengthAdjust="spacingAndGlyphs">3000</text><text x="901.4" y="1595.5" font-size="88.71" font-weight="bold" fill="#000" textLength="193.3" lengthAdjust="spacingAndGlyphs">2500</text><text x="1169.0" y="1595.5" font-size="88.71" font-weight="bold" fill="#000" textLength="192.3" lengthAdjust="spacingAndGlyphs">2000</text><text x="1438.0" y="1595.5" font-size="88.71" font-weight="bold" fill="#000" textLength="193.1" lengthAdjust="spacingAndGlyphs">1500</text><text x="1705.6" y="1595.5" font-size="88.71" font-weight="bold" fill="#000" textLength="193.3" lengthAdjust="spacingAndGlyphs">1000</text><text x="1998.4" y="1595.5" font-size="88.71" font-weight="bold" fill="#000" textLength="143.5" lengthAdjust="spacingAndGlyphs">500</text><text x="651.1" y="1737.3" font-size="92.20" font-weight="bold" fill="#000" textLength="825.6" lengthAdjust="spacingAndGlyphs">Wave number (cm</text><text x="1477.1" y="1706.4" font-size="95.10" font-weight="bold" fill="#000" textLength="40.0" lengthAdjust="spacingAndGlyphs">−</text><text x="1510.6" y="1698.8" style="font-family:NanumGothic, 'Liberation Sans', sans-serif" font-size="63.15" font-weight="bold" fill="#000" textLength="52.6" lengthAdjust="spacingAndGlyphs">1</text><text x="1557.4" y="1737.0" font-size="92.83" font-weight="bold" fill="#000" textLength="27.2" lengthAdjust="spacingAndGlyphs">)</text><text transform="translate(103.5,1254.9) rotate(-90)" font-size="95.02" font-weight="bold" fill="#000" textLength="840.5" lengthAdjust="spacingAndGlyphs">Absorbance (a. u.)</text></svg></body></html>
